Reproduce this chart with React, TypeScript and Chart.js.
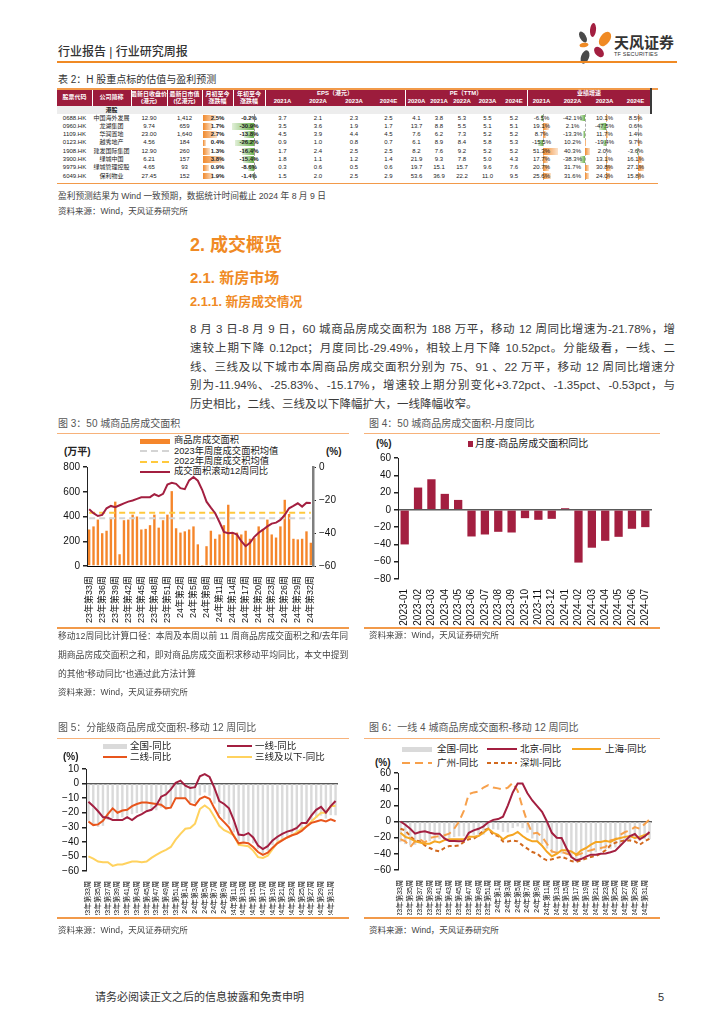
import React, { useEffect, useRef } from "react";
import { Chart, registerables } from "chart.js";

Chart.register(...registerables);
const SANS = "'Liberation Sans', 'Noto Sans CJK SC', sans-serif";
Chart.defaults.font.family = SANS;
Chart.defaults.color = "#111";

const MAROON = "#A31F40";
const ORANGE = "#F5862B";
const LINE_ORANGE = "#F29A4A";

// ---------- data ----------
const WEEK_LABELS: string[] = [];
for (let w = 33; w <= 52; w++) WEEK_LABELS.push(`23年第${w}周`);
for (let w = 1; w <= 32; w++) WEEK_LABELS.push(`24年第${w}周`);

const AREA_WEEKLY = [295, 320, 375, 265, 285, 390, 520, 95, 370, 375, 415, 400, 295, 300, 330, 415, 310, 370, 415, 605,
  305, 270, 280, 295, 320, 175, 3, 160, 285, 220, 255, 330, 495, 270, 270, 255, 285, 220, 225, 320, 300, 375, 255, 230, 320, 535, 420, 220, 215, 220, 280, 188];
const ROLLING_YOY = [-25.6, -28, -29.7, -29, -25, -23.6, -24.4, -23.2, -22, -21, -20.3, -19.3, -18.3, -18.3, -18.3, -16.5, -17.7, -16.3, -10.6, -9.6,
  -10.2, -12.8, -13.4, -8.1, -6.1, -8.3, -13.8, -21, -24.6, -28, -33.5, -39.4, -40.2, -39.8, -41, -45, -48, -46, -42.3, -39.8, -38, -36, -34.3, -33.7, -32.1, -29, -25, -23.6, -22, -24, -21.7, -21.78];
const AVG_2023 = 385;
const AVG_2022 = 431;

const MONTH_LABELS = ["2023-01", "2023-02", "2023-03", "2023-04", "2023-05", "2023-06", "2023-07", "2023-08", "2023-09", "2023-10", "2023-11", "2023-12",
  "2024-01", "2024-02", "2024-03", "2024-04", "2024-05", "2024-06", "2024-07"];
const MONTHLY_YOY = [-40, 25.8, 35.4, 18.5, 11.5, -30.8, -28.5, -25.4, -26.2, -9.6, -11.5, -10.4, 1.9, -61, -43.8, -35.8, -31.2, -21.9, -20];

const TIER1_YOY = [-12.5, -15.5, -19, -23, -23.5, -25, -25, -25, -23, -25, -22.5, -21, -19, -18, -15, -9, -7.5, -4, 0.5, 2,
  -1.5, -3, -2.5, 5, 6.5, 4.5, -3, -12, -14, -17, -25, -35, -35.5, -34, -37, -42.5, -45, -43, -39, -36.5, -34.5, -33, -32, -30.5, -27, -27, -22, -18, -16, -20, -15.5, -11.94];
const TIER2_YOY = [-26, -28.5, -28, -25.5, -21, -17, -20, -18.5, -18, -15.5, -14, -13, -13, -13.5, -14, -14.5, -17, -16.5, -10, -10,
  -10, -14, -15, -10.5, -9, -10.5, -17, -23, -26.5, -30, -36, -41, -40.5, -41, -43.5, -47, -49, -47.5, -44, -41, -39, -37, -35.5, -34.5, -32.5, -29.5, -27, -26, -25, -26, -24.5, -25.83];
const TIER3_YOY = [-50, -51.5, -53.5, -54, -54, -56.5, -55.5, -55.5, -54.5, -53.5, -53.5, -54, -53.5, -51, -49, -47, -45.5, -43.5, -38.5, -34.5,
  -31, -30.5, -27.5, -17.5, -15, -17.5, -23, -29, -32, -33.5, -35.5, -42, -42.5, -43, -46, -50.5, -51, -49.5, -45, -40.5, -38.5, -37, -35.5, -33.5, -31, -29.5, -26, -23, -20, -20, -15.5, -15.17];

const BEIJING_YOY = [0, -4, -9, -15, -13, -12, -14, -15, -15, -21, -24, -24, -24.5, -24, -14, -11, -9, -6, -1, 2,
  3, 6, 20, 36, 47, 47, 35, 26, 19, 12, 0, -14, -20, -20.5, -33, -44, -48, -46.5, -43.5, -41, -41, -40, -39.5, -38, -36, -30, -24, -18, -15.5, -22, -18.5, -13];
const SHANGHAI_YOY = [-14, -19, -21, -24.5, -26, -27.5, -27.5, -24.5, -26, -23, -22, -22, -22, -22, -19, -19, -18, -14, -9, -14,
  -16.5, -22, -18, -16.5, -13, -18, -22, -24.5, -24.5, -30, -37.5, -43, -40, -35.6, -35.6, -37, -41, -35.6, -32.8, -28.7, -25.4, -25.4, -23.8, -25.4, -22, -20.5, -19, -18, -20.5, -19, -16.5, -15];
const GUANGZHOU_YOY = [-22, -24.5, -31.5, -24.5, -22, -26, -20.5, -19, -18, -17, -15, -9, 0, 13.5, 34, 36, 37, 42, 45, 42,
  41, 39.5, 42, 48, 38, 17.5, -1, -15, -14, -19, -27.5, -37, -38.5, -37.7, -39.7, -41.8, -41.8, -39.7, -37, -35.6, -33.6, -32.8, -31.5, -23.4, -22, -16.4, -13, -11, -7, -9, -3, 2.5];
const SHENZHEN_YOY = [-9, -11, -18, -23.4, -24.6, -29.5, -32.8, -35.6, -37, -32.8, -30.3, -30.3, -29.5, -25.4, -22, -21.3, -17.2, -11, -9, -16.4,
  -18, -24.6, -24.6, -23.4, -24.6, -29.5, -33.6, -37.7, -39.7, -45, -48, -46.7, -45, -43.8, -45.9, -49, -50, -48, -45.9, -43.8, -42.6, -39.7, -35.6, -29.5, -26.2, -24.6, -23.4, -23.4, -24.6, -28.7, -24.6, -21.3];

// table
const STOCK_CODES = ["0688.HK", "0960.HK", "1109.HK", "0123.HK", "1908.HK", "3900.HK", "9979.HK", "6049.HK"];
const STOCK_NAMES = ["中国海外发展", "龙湖集团", "华润置地", "越秀地产", "建发国际集团", "绿城中国", "绿城管理控股", "保利物业"];
const CLOSE_PRICE = ["12.90", "9.74", "23.00", "4.56", "12.90", "6.21", "4.65", "27.45"];
const MARKET_CAP = ["1,412", "659", "1,640", "184", "260", "157", "93", "152"];
const MTD_CHG = [2.5, 1.7, 2.7, 0.4, 1.3, 3.8, 0.9, 1.9];
const YTD_CHG = [-0.2, -30.9, -13.8, -26.2, -16.4, -15.4, -8.6, -1.4];
const EPS_YEARS = ["2021A", "2022A", "2023A", "2024E"];
const PE_YEARS = ["2020A", "2021A", "2022A", "2023A", "2024E"];
const GROWTH_YEARS = ["2021A", "2022A", "2023A", "2024E"];
const EPS = [[3.7, 2.1, 2.3, 2.5], [3.5, 3.6, 1.9, 1.7], [4.5, 3.9, 4.4, 4.5], [0.9, 1.0, 0.8, 0.7], [1.7, 2.4, 2.5, 2.5], [1.8, 1.1, 1.2, 1.4], [0.3, 0.6, 0.5, 0.6], [1.5, 2.0, 2.5, 2.9]];
const PE = [[4.1, 3.8, 5.3, 5.5, 5.2], [13.7, 8.8, 5.5, 5.1, 5.1], [7.6, 6.2, 7.3, 5.2, 5.2], [6.1, 8.9, 8.4, 5.8, 5.3], [8.2, 7.6, 9.2, 5.2, 5.2], [21.9, 9.3, 7.8, 5.0, 4.3], [19.7, 15.1, 15.7, 9.6, 7.6], [53.6, 36.9, 22.2, 11.0, 9.5]];
const GROWTH = [[-6.5, -42.1, 10.1, 8.5], [19.1, 2.1, -47.5, 0.6], [8.7, -13.3, 11.7, 1.4], [-15.5, 10.2, -19.4, 9.7], [51.3, 40.3, 2.0, -3.6], [17.7, -38.3, 13.1, 16.1], [20.7, 31.7, 30.8, 27.1], [25.6, 31.6, 24.0, 15.8]];

// ---------- helpers ----------
const minus = (v: any) => String(v).replace("-", "−");

function base(top: number, right: number) {
  return {
    responsive: false,
    maintainAspectRatio: false,
    animation: false as const,
    devicePixelRatio: 1,
    events: [],
    layout: { padding: { top, right, left: 0, bottom: 0 } },
    plugins: { legend: { display: false }, tooltip: { enabled: false } },
  };
}

function catAxis(height: number, every: number, size: number) {
  return {
    type: "category",
    offset: true,
    grid: { display: false },
    border: { display: false },
    ticks: {
      autoSkip: false,
      maxRotation: 90,
      minRotation: 90,
      padding: 2,
      font: { size },
      color: "#111",
      callback: function (this: any, v: any, i: number) {
        return i % every === 0 ? this.getLabelForValue(v) : "";
      },
    },
    afterFit: (s: any) => {
      s.height = height;
    },
  };
}

function valAxis(width: number, min: number, max: number, step: number, zeroLine: boolean) {
  return {
    position: "left",
    min,
    max,
    ticks: { stepSize: step, autoSkip: false, font: { size: 10 }, padding: 3, color: "#111", callback: minus },
    grid: {
      drawOnChartArea: zeroLine,
      tickLength: 4,
      tickColor: "#222",
      lineWidth: 1.5,
      color: (ctx: any) => (zeroLine && ctx.tick && ctx.tick.value === 0 ? "#595959" : "rgba(0,0,0,0)"),
    },
    border: { color: "#222", width: 1 },
    afterFit: (s: any) => {
      s.width = width;
    },
  };
}

function ChartCanvas(props: { left: number; top: number; width: number; height: number; config: () => any }) {
  const ref = useRef<HTMLCanvasElement>(null);
  useEffect(() => {
    const chart = new Chart(ref.current as HTMLCanvasElement, props.config());
    return () => chart.destroy();
  }, []);
  const { left, top, width, height } = props;
  return <canvas ref={ref} width={width} height={height} style={{ position: "absolute", left, top, width, height }} />;
}

// ---------- chart configs ----------
const chart3Config = () => ({
  type: "bar",
  data: {
    labels: WEEK_LABELS,
    datasets: [
      { type: "line", label: "成交面积滚动12周同比", data: ROLLING_YOY, yAxisID: "y1", borderColor: MAROON, borderWidth: 2, pointRadius: 0, tension: 0, order: 1 },
      { type: "line", label: "2022年周度成交积均值", data: WEEK_LABELS.map(() => AVG_2022), yAxisID: "y", borderColor: "#FFC93C", borderWidth: 2, borderDash: [6, 4], pointRadius: 0, order: 2 },
      { type: "line", label: "2023年周度成交面积均值", data: WEEK_LABELS.map(() => AVG_2023), yAxisID: "y", borderColor: "#D4D4D4", borderWidth: 2, borderDash: [6, 4], pointRadius: 0, order: 2 },
      { type: "bar", label: "商品房成交面积", data: AREA_WEEKLY, yAxisID: "y", backgroundColor: ORANGE, barPercentage: 0.55, categoryPercentage: 1, order: 3 },
    ],
  },
  options: {
    ...base(10, 0),
    scales: {
      x: { ...catAxis(63, 3, 9), border: { display: true, color: "#000", width: 1 } },
      y: { ...valAxis(37, 0, 800, 200, false) },
      y1: {
        position: "right",
        min: -60,
        max: 0,
        ticks: { stepSize: 20, autoSkip: false, font: { size: 10 }, padding: 3, color: "#111", callback: minus },
        grid: { drawOnChartArea: false, tickLength: 3, tickColor: "#222" },
        border: { color: "#7F7F7F", width: 2.5 },
        afterFit: (s: any) => {
          s.width = 37;
        },
      },
    },
  },
});

const chart4Config = () => ({
  type: "bar",
  data: {
    labels: MONTH_LABELS,
    datasets: [{ label: "月度-商品房成交面积同比", data: MONTHLY_YOY, backgroundColor: MAROON, barPercentage: 0.62, categoryPercentage: 1 }],
  },
  options: {
    ...base(10, 8),
    scales: {
      x: catAxis(49, 1, 10),
      y: valAxis(38, -80, 60, 20, true),
    },
  },
});

const chart5Config = () => ({
  type: "bar",
  data: {
    labels: WEEK_LABELS,
    datasets: [
      { type: "line", label: "一线-同比", data: TIER1_YOY, borderColor: MAROON, borderWidth: 2, pointRadius: 0, order: 1 },
      { type: "line", label: "二线-同比", data: TIER2_YOY, borderColor: "#E8551C", borderWidth: 2, pointRadius: 0, order: 2 },
      { type: "line", label: "三线及以下-同比", data: TIER3_YOY, borderColor: "#FFD25E", borderWidth: 2, pointRadius: 0, order: 3 },
      { type: "bar", label: "全国-同比", data: ROLLING_YOY, backgroundColor: "#DADADA", barPercentage: 0.5, categoryPercentage: 1, order: 10 },
    ],
  },
  options: {
    ...base(8, 12),
    scales: {
      x: catAxis(44, 2, 7),
      y: valAxis(36, -60, 10, 10, true),
    },
  },
});

const chart6Config = () => ({
  type: "bar",
  data: {
    labels: WEEK_LABELS,
    datasets: [
      { type: "line", label: "北京-同比", data: BEIJING_YOY, borderColor: MAROON, borderWidth: 2, pointRadius: 0, order: 1 },
      { type: "line", label: "上海-同比", data: SHANGHAI_YOY, borderColor: "#F5A623", borderWidth: 2, pointRadius: 0, order: 2 },
      { type: "line", label: "广州-同比", data: GUANGZHOU_YOY, borderColor: "#F7A04B", borderWidth: 2, borderDash: [8, 5], pointRadius: 0, order: 3 },
      { type: "line", label: "深圳-同比", data: SHENZHEN_YOY, borderColor: "#D2691E", borderWidth: 2, borderDash: [4, 3], pointRadius: 0, order: 4 },
      { type: "bar", label: "全国-同比", data: ROLLING_YOY, backgroundColor: "#DADADA", barPercentage: 0.5, categoryPercentage: 1, order: 10 },
    ],
  },
  options: {
    ...base(8, 8),
    scales: {
      x: catAxis(45, 2, 7),
      y: valAxis(38, -60, 60, 20, true),
    },
  },
});

// ---------- small UI pieces ----------
function Txt(p: { x: number; y: number; size: number; children: React.ReactNode; color?: string; weight?: number; style?: React.CSSProperties }) {
  return (
    <div
      style={{
        position: "absolute",
        left: p.x,
        top: p.y - p.size * 0.7,
        fontSize: p.size,
        lineHeight: `${p.size * 1.4}px`,
        color: p.color || "#333",
        fontWeight: p.weight || 400,
        whiteSpace: "nowrap",
        ...(p.style || {}),
      }}
    >
      {p.children}
    </div>
  );
}

function HLine(p: { x: number; y: number; w: number; color?: string; h?: number }) {
  return <div style={{ position: "absolute", left: p.x, top: p.y, width: p.w, height: p.h || 1.5, background: p.color || LINE_ORANGE }} />;
}

function LegLine(p: { x: number; y: number; w: number; color: string; dash?: string }) {
  return (
    <svg style={{ position: "absolute", left: p.x, top: p.y - 3 }} width={p.w} height={6}>
      <line x1={0} y1={3} x2={p.w} y2={3} stroke={p.color} strokeWidth={2} strokeDasharray={p.dash} />
    </svg>
  );
}

function LegBox(p: { x: number; y: number; w: number; h: number; color: string }) {
  return <div style={{ position: "absolute", left: p.x, top: p.y - p.h / 2, width: p.w, height: p.h, background: p.color }} />;
}

function Logo() {
  return (
    <>
      <svg style={{ position: "absolute", left: 575, top: 20 }} width={40} height={45}>
        <ellipse cx={8} cy={17} rx={3} ry={6} transform="rotate(-30 8 17)" fill="#4a4a4a" />
        <ellipse cx={18} cy={10} rx={3} ry={7} transform="rotate(5 18 10)" fill={MAROON} />
        <ellipse cx={30} cy={19} rx={5} ry={8} transform="rotate(35 30 19)" fill="#F08A24" />
        <ellipse cx={9} cy={25} rx={4.5} ry={2.2} transform="rotate(-10 9 25)" fill="#F08A24" />
        <ellipse cx={24} cy={32} rx={4} ry={6} transform="rotate(-40 24 32)" fill={MAROON} />
        <ellipse cx={10} cy={37} rx={4} ry={7} transform="rotate(20 10 37)" fill="#4a4a4a" />
      </svg>
      <Txt x={614} y={42} size={15} weight={700} color="#333">天风证券</Txt>
      <Txt x={614} y={55} size={5.5} color="#333" style={{ letterSpacing: 0.2 }}>TF SECURITIES</Txt>
    </>
  );
}

// ---------- table ----------
const COLS = [57, 92, 131, 167, 202, 233, 265, 300, 336, 372, 405, 428, 450, 474, 501, 527, 556, 589, 620, 651];
const ROW0 = 113.9;
const ROWH = 8.3;
const GROWTH_AXIS = [543, 585, 606, 638];
const GROWTH_SCALE = [0.3, 0.13, 0.15, 0.22];

function Table() {
  const els: React.ReactNode[] = [];
  let k = 0;
  const cell = (c0: number, c1: number, top: number, h: number, content: React.ReactNode, style: React.CSSProperties = {}) => {
    els.push(
      <div
        key={k++}
        style={{
          position: "absolute",
          left: COLS[c0],
          top,
          width: COLS[c1] - COLS[c0],
          height: h,
          display: "flex",
          alignItems: "center",
          justifyContent: "center",
          whiteSpace: "nowrap",
          fontSize: 6,
          lineHeight: "7px",
          color: "#222",
          textAlign: "center",
          ...style,
        }}
      >
        {content}
      </div>
    );
  };
  const box = (left: number, top: number, width: number, height: number, style: React.CSSProperties) => {
    els.push(<div key={k++} style={{ position: "absolute", left, top, width, height, ...style }} />);
  };
  const W = COLS[COLS.length - 1] - COLS[0];
  box(57, 88, 601, 1.5, { background: LINE_ORANGE });
  box(57, 89.5, W, 16.5, { background: "#9C1C3C" });
  box(57, 106, W, 8, { background: "#EDEDED" });
  box(650, 88, 1.5, 26, { background: "#3a3a3a" });
  [1, 2, 3, 4, 5, 6, 10, 15].forEach((c) => box(COLS[c] - 0.4, 89.5, 0.8, 16.5, { background: "#fff" }));
  const hs: React.CSSProperties = { color: "#fff", fontWeight: 700 };
  const two = (a: string, b: string) => (
    <div>
      {a}
      <br />
      {b}
    </div>
  );
  cell(0, 1, 89.5, 16.5, "股票代码", hs);
  cell(1, 2, 89.5, 16.5, "公司简称", hs);
  cell(2, 3, 89.5, 16.5, two("最新日收盘价", "(港元)"), hs);
  cell(3, 4, 89.5, 16.5, two("最新日市值", "(亿港元)"), hs);
  cell(4, 5, 89.5, 16.5, two("月初至今", "涨跌幅"), hs);
  cell(5, 6, 89.5, 16.5, two("年初至今", "涨跌幅"), hs);
  cell(6, 10, 89.5, 8.5, "EPS（港元）", hs);
  cell(10, 15, 89.5, 8.5, "PE（TTM）", hs);
  cell(15, 19, 89.5, 8.5, "业绩增速", hs);
  EPS_YEARS.forEach((y, j) => cell(6 + j, 7 + j, 97.5, 8, y, hs));
  PE_YEARS.forEach((y, j) => cell(10 + j, 11 + j, 97.5, 8, y, hs));
  GROWTH_YEARS.forEach((y, j) => cell(15 + j, 16 + j, 97.5, 8, y, hs));
  cell(1, 2, 106, 8, "港股", { fontWeight: 700 });

  const tableH = ROWH * STOCK_CODES.length;
  box(254.3, ROW0, 0, tableH, { borderLeft: "0.7px dashed #999" });
  GROWTH_AXIS.forEach((ax) => box(ax, ROW0, 0, tableH, { borderLeft: "0.7px dashed #aaa" }));

  STOCK_CODES.forEach((code, i) => {
    const top = ROW0 + i * ROWH;
    const mtdW = 2 + (MTD_CHG[i] / 3.8) * 17;
    box(COLS[4] + 0.5, top + 0.8, mtdW, ROWH - 1.6, { background: "linear-gradient(to right, #F08A2E, #FCE3CC)" });
    const ytdW = Math.abs(YTD_CHG[i]) * 0.73;
    box(254.3 - ytdW, top + 0.8, ytdW, ROWH - 1.6, { background: "linear-gradient(to left, #6AB04C, #E2F0D9)" });
    GROWTH[i].forEach((g, j) => {
      const w = Math.abs(g) * GROWTH_SCALE[j];
      if (g >= 0) box(GROWTH_AXIS[j], top + 0.8, w, ROWH - 1.6, { background: "linear-gradient(to right, #F08A2E, #FCE3CC)" });
      else box(GROWTH_AXIS[j] - w, top + 0.8, w, ROWH - 1.6, { background: "linear-gradient(to left, #6AB04C, #E2F0D9)" });
    });
    cell(0, 1, top, ROWH, code);
    cell(1, 2, top, ROWH, STOCK_NAMES[i]);
    cell(2, 3, top, ROWH, CLOSE_PRICE[i]);
    cell(3, 4, top, ROWH, MARKET_CAP[i]);
    cell(4, 5, top, ROWH, MTD_CHG[i].toFixed(1) + "%", { fontWeight: 700 });
    cell(5, 6, top, ROWH, YTD_CHG[i].toFixed(1) + "%", { fontWeight: 700 });
    EPS[i].forEach((v, j) => cell(6 + j, 7 + j, top, ROWH, v.toFixed(1)));
    PE[i].forEach((v, j) => cell(10 + j, 11 + j, top, ROWH, v.toFixed(1)));
    GROWTH[i].forEach((v, j) => cell(15 + j, 16 + j, top, ROWH, v.toFixed(1) + "%"));
  });
  box(57, 182.5, 601, 1.5, { background: LINE_ORANGE });
  return <>{els}</>;
}

// ---------- body text ----------
const BODY_LINES = [
  "8 月 3 日-8 月 9 日，60 城商品房成交面积为 188 万平，移动 12 周同比增速为-21.78%，增",
  "速较上期下降 0.12pct；月度同比-29.49%，相较上月下降 10.52pct。分能级看，一线、二",
  "线、三线及以下城市本周商品房成交面积分别为 75、91 、22 万平，移动 12 周同比增速分",
  "别为-11.94%、-25.83%、-15.17%，增速较上期分别变化+3.72pct、-1.35pct、-0.53pct，与",
  "历史相比，二线、三线及以下降幅扩大，一线降幅收窄。",
];
const NOTE_LINES = [
  "移动12周同比计算口径：本周及本周以前 11 周商品房成交面积之和/去年同",
  "期商品房成交面积之和，即对商品房成交面积求移动平均同比，本文中提到",
  "的其他“移动同比”也通过此方法计算",
];

export default function App() {
  return (
    <div style={{ position: "absolute", left: 0, top: 0, width: 724, height: 1024, background: "#fff", fontFamily: SANS, overflow: "hidden" }}>
      {/* header */}
      <Txt x={58} y={52} size={12} weight={500} color="#333">行业报告 | 行业研究周报</Txt>
      <Logo />
      <HLine x={57} y={61} w={620} h={2} color="#F08A24" />

      {/* table */}
      <Txt x={58} y={80} size={10} color="#333">表 2：H 股重点标的估值与盈利预测</Txt>
      <Table />
      <Txt x={58} y={196} size={8.7} color="#444">盈利预测结果为 Wind 一致预期，数据统计时间截止 2024 年 8 月 9 日</Txt>
      <Txt x={58} y={212} size={8.5} color="#444">资料来源：Wind，天风证券研究所</Txt>

      {/* headings */}
      <Txt x={190} y={246} size={18} weight={700} color="#F08A24">2. 成交概览</Txt>
      <Txt x={190} y={277} size={15} weight={700} color="#F08A24">2.1. 新房市场</Txt>
      <Txt x={190} y={302} size={12.8} weight={700} color="#F08A24">2.1.1. 新房成交情况</Txt>
      {BODY_LINES.map((l, i) => (
        <div
          key={i}
          style={{
            position: "absolute",
            left: 190,
            top: 329 + i * 18.8 - 9,
            width: 485,
            height: 18,
            lineHeight: "18px",
            fontSize: 11.5,
            color: "#3a3a3a",
            whiteSpace: "nowrap",
            textAlign: i < BODY_LINES.length - 1 ? "justify" : "left",
            textAlignLast: i < BODY_LINES.length - 1 ? "justify" : "auto",
          }}
        >
          {l}
        </div>
      ))}

      {/* figure 3 */}
      <Txt x={58} y={424} size={10} color="#555">图 3：50 城商品房成交面积</Txt>
      <HLine x={57} y={432.5} w={292} color="#F7B27A" />
      <LegBox x={140} y={441} w={30} h={5} color={ORANGE} />
      <LegLine x={140} y={451.3} w={30} color="#D4D4D4" dash="7,4" />
      <LegLine x={140} y={461.6} w={30} color="#FFC93C" dash="7,4" />
      <LegLine x={140} y={471.9} w={30} color={MAROON} />
      <Txt x={174} y={441} size={9.3} color="#222">商品房成交面积</Txt>
      <Txt x={174} y={451.3} size={9.3} color="#222">2023年周度成交面积均值</Txt>
      <Txt x={174} y={461.6} size={9.3} color="#222">2022年周度成交积均值</Txt>
      <Txt x={174} y={471.9} size={9.3} color="#222">成交面积滚动12周同比</Txt>
      <Txt x={64} y={452} size={10} weight={700} color="#222">(万平)</Txt>
      <Txt x={326} y={452} size={10} weight={700} color="#222">(%)</Txt>
      <ChartCanvas left={50} top={457} width={300} height={172} config={chart3Config} />
      <HLine x={57} y={627} w={292} />
      {NOTE_LINES.map((l, i) => (
        <Txt key={i} x={58} y={636 + i * 19} size={8.8} color="#444">{l}</Txt>
      ))}
      <Txt x={58} y={693} size={8.5} color="#444">资料来源：Wind，天风证券研究所</Txt>

      {/* figure 4 */}
      <Txt x={369} y={424} size={10} color="#555">图 4：50 城商品房成交面积-月度同比</Txt>
      <HLine x={364} y={432.5} w={296} color="#F7B27A" />
      <LegBox x={468} y={444} w={5} h={6} color={MAROON} />
      <Txt x={475} y={444} size={10} color="#222">月度-商品房成交面积同比</Txt>
      <Txt x={376} y={444} size={10} weight={700} color="#222">(%)</Txt>
      <ChartCanvas left={360} top={448} width={300} height={180} config={chart4Config} />
      <HLine x={364} y={627} w={296} />
      <Txt x={369} y={636} size={8.5} color="#444">资料来源：Wind，天风证券研究所</Txt>

      {/* figure 5 */}
      <Txt x={58} y={728} size={10} color="#555">图 5：分能级商品房成交面积-移动 12 周同比</Txt>
      <HLine x={57} y={737.5} w={292} color="#F7B27A" />
      <LegBox x={103} y={746} w={24} h={5} color="#DADADA" />
      <Txt x={130} y={746} size={9.5} color="#222">全国-同比</Txt>
      <LegLine x={227} y={746} w={25} color={MAROON} />
      <Txt x={255} y={746} size={9.5} color="#222">一线-同比</Txt>
      <LegLine x={103} y={757} w={24} color="#E8551C" />
      <Txt x={130} y={757} size={9.5} color="#222">二线-同比</Txt>
      <LegLine x={227} y={757} w={25} color="#FFD25E" />
      <Txt x={255} y={757} size={9.5} color="#222">三线及以下-同比</Txt>
      <Txt x={63} y={757} size={10} weight={700} color="#222">(%)</Txt>
      <ChartCanvas left={50} top={760} width={300} height={155} config={chart5Config} />
      <HLine x={57} y={917} w={292} />
      <Txt x={58} y={931} size={8.5} color="#444">资料来源：Wind，天风证券研究所</Txt>

      {/* figure 6 */}
      <Txt x={369} y={728} size={10} color="#555">图 6：一线 4 城商品房成交面积-移动 12 周同比</Txt>
      <HLine x={364} y={737.5} w={296} color="#F7B27A" />
      <LegBox x={402} y={749} w={30} h={5} color="#DADADA" />
      <Txt x={437} y={749} size={9.5} color="#222">全国-同比</Txt>
      <LegLine x={487} y={749} w={30} color={MAROON} />
      <Txt x={520} y={749} size={9.5} color="#222">北京-同比</Txt>
      <LegLine x={572} y={749} w={29} color="#F5A623" />
      <Txt x={605} y={749} size={9.5} color="#222">上海-同比</Txt>
      <LegLine x={402} y={763} w={30} color="#F7A04B" dash="8,5" />
      <Txt x={437} y={763} size={9.5} color="#222">广州-同比</Txt>
      <LegLine x={487} y={763} w={30} color="#D2691E" dash="4,3" />
      <Txt x={520} y={763} size={9.5} color="#222">深圳-同比</Txt>
      <Txt x={375} y={763} size={10} weight={700} color="#222">(%)</Txt>
      <ChartCanvas left={360} top={764} width={300} height={151} config={chart6Config} />
      <HLine x={364} y={917} w={296} />
      <Txt x={369} y={931} size={8.5} color="#444">资料来源：Wind，天风证券研究所</Txt>

      {/* footer */}
      <Txt x={95} y={998} size={11} color="#333">请务必阅读正文之后的信息披露和免责申明</Txt>
      <Txt x={658} y={998} size={11} color="#333">5</Txt>
    </div>
  );
}
